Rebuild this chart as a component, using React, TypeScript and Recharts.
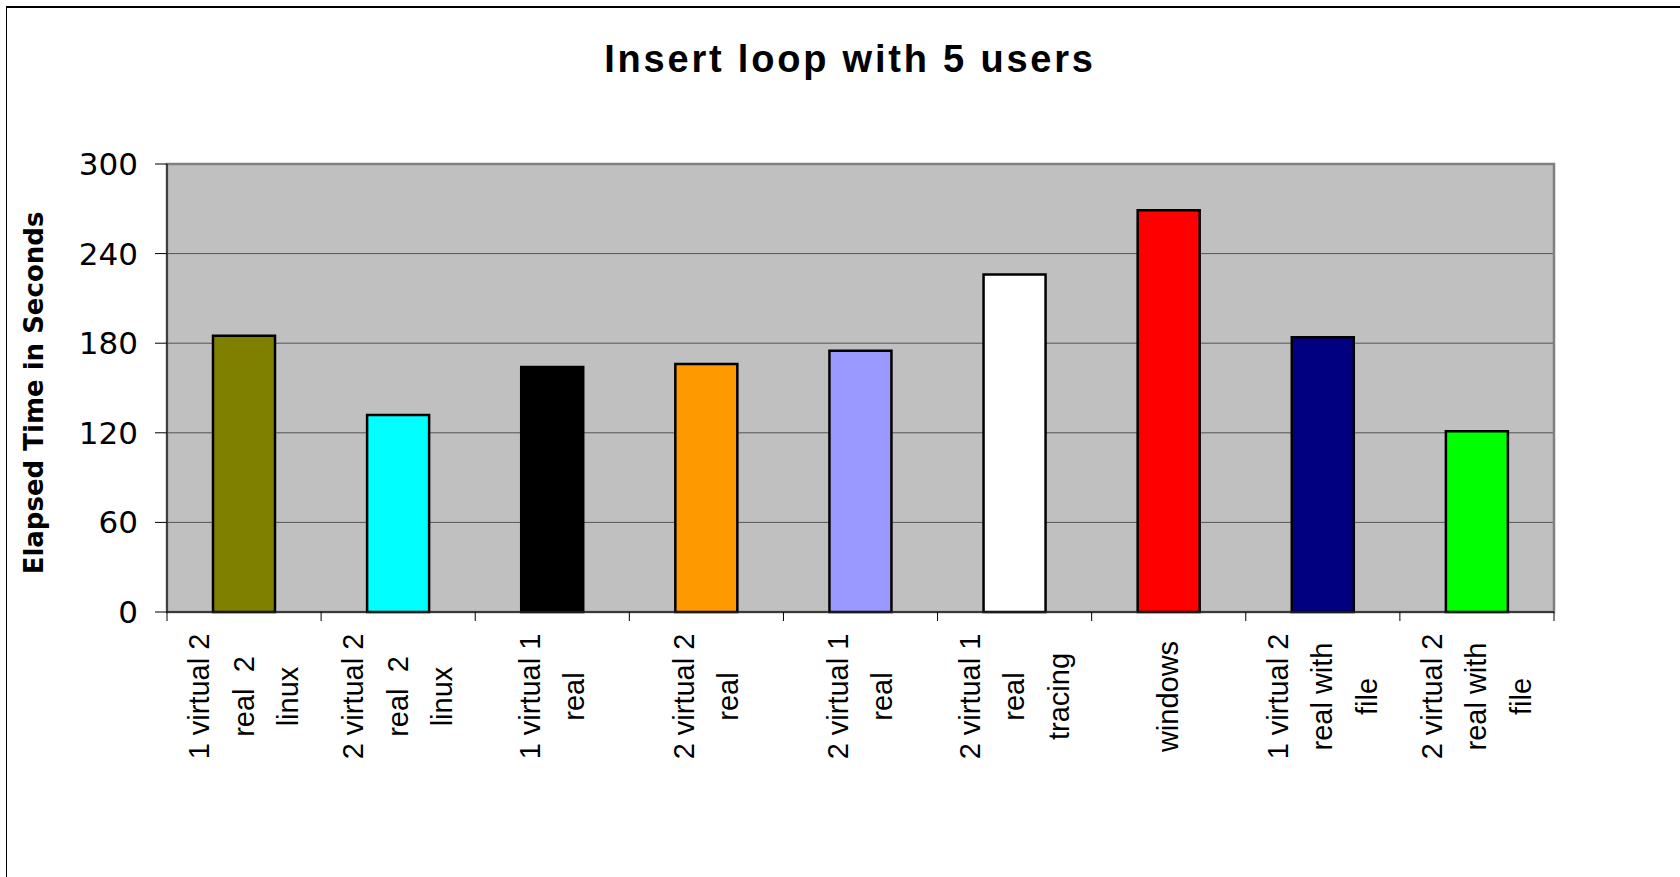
import React from 'react'
import {
  BarChart,
  Bar,
  XAxis,
  YAxis,
  CartesianGrid,
  ReferenceArea,
  Cell,
} from 'recharts'

// Insert loop benchmark, 5 users: elapsed seconds per setup
const categories = [
  '1 virtual 2\nreal  2\nlinux',
  '2 virtual 2\nreal  2\nlinux',
  '1 virtual 1\nreal',
  '2 virtual 2\nreal',
  '2 virtual 1\nreal',
  '2 virtual 1\nreal\ntracing',
  'windows',
  '1 virtual 2\nreal with\nfile',
  '2 virtual 2\nreal with\nfile',
]
const elapsedSeconds = [185, 132, 164, 166, 175, 226, 269, 184, 121]
const barColors = [
  '#808000',
  '#00ffff',
  '#000000',
  '#ff9900',
  '#9999ff',
  '#ffffff',
  '#ff0000',
  '#000080',
  '#00ff00',
]
const yTicks = [0, 60, 120, 180, 240, 300]

const W = 1680
const H = 877
const PLOT_LEFT = 167
const PLOT_RIGHT = 1554
const PLOT_TOP = 164
const PLOT_BOTTOM = 612
const X_AXIS_H = 200
const HALF_BAND = (PLOT_RIGHT - PLOT_LEFT) / categories.length / 2

const data = categories.map((name, i) => ({ name, seconds: elapsedSeconds[i] }))

/**
 * Rotated, wrapped category label plus boundary tick marks (Excel style)
 */
function CategoryTick(props: any) {
  const { x, y, payload, index, visibleTicksCount } = props
  const lines = String(payload.value).split('\n')
  const half = payload.offset > 0 ? payload.offset : HALF_BAND
  const gap = 44.5
  const yc = y + 84.5
  return (
    <g>
      <line x1={x - half} x2={x - half} y1={y} y2={y + 9} stroke="#000" strokeWidth={1} />
      {index === visibleTicksCount - 1 && (
        <line x1={x + half} x2={x + half} y1={y} y2={y + 9} stroke="#000" strokeWidth={1} />
      )}
      <text
        transform={`translate(${x},${yc}) rotate(-90)`}
        textAnchor="middle"
        fontFamily="'Liberation Sans', Arial, sans-serif"
        fontSize={29}
        fill="#000"
        style={{ whiteSpace: 'pre' }}
      >
        {lines.map((line, i) => (
          <tspan key={i} x={0} y={(i - (lines.length - 1) / 2) * gap + 9.5}>
            {line}
          </tspan>
        ))}
      </text>
    </g>
  )
}

function YTitle(props: any) {
  const vb = props.viewBox || { x: 0, y: PLOT_TOP, width: PLOT_LEFT, height: PLOT_BOTTOM - PLOT_TOP }
  const cx = vb.x + 34
  const cy = vb.y + vb.height / 2 + 5
  return (
    <text
      x={cx}
      y={cy}
      transform={`rotate(-90, ${cx}, ${cy})`}
      textAnchor="middle"
      dominantBaseline="central"
      fontFamily="'DejaVu Sans', sans-serif"
      fontWeight="bold"
      fontSize={26}
      fill="#000"
    >
      Elapsed Time in Seconds
    </text>
  )
}

export default function App() {
  return (
    <div
      style={{
        position: 'absolute',
        left: 0,
        top: 0,
        width: W,
        height: H,
        background: '#fff',
        overflow: 'hidden',
      }}
    >
      {/* frame (only top and left edges visible in the original crop) */}
      <div
        style={{
          position: 'absolute',
          left: 6,
          top: 6,
          width: W,
          height: H,
          borderTop: '2px solid #000',
          borderLeft: '1px solid #000',
        }}
      />
      <svg
        width={W}
        height={100}
        style={{ position: 'absolute', left: 0, top: 0, pointerEvents: 'none' }}
      >
        <text
          x={850}
          y={72}
          textAnchor="middle"
          fontFamily="'Liberation Sans', Arial, sans-serif"
          fontWeight="bold"
          fontSize={38}
          letterSpacing={2.8}
          fill="#000"
        >
          Insert loop with 5 users
        </text>
      </svg>
      <div style={{ position: 'absolute', left: 0, top: 0 }}>
        <BarChart
          width={W}
          height={H}
          data={data}
          margin={{
            top: PLOT_TOP,
            right: W - PLOT_RIGHT,
            left: 0,
            bottom: H - PLOT_BOTTOM - X_AXIS_H,
          }}
          barSize={62}
        >
          <CartesianGrid
            vertical={false}
            horizontal
            fill="#c0c0c0"
            fillOpacity={1}
            stroke="#555"
            strokeWidth={1}
          />
          <ReferenceArea
            y1={0}
            y2={300}
            fill="none"
            stroke="#808080"
            strokeWidth={2.5}
            ifOverflow="visible"
          />
          <XAxis
            dataKey="name"
            interval={0}
            height={X_AXIS_H}
            tickLine={false}
            tickSize={0}
            tickMargin={0}
            axisLine={{ stroke: '#222', strokeWidth: 1.5 }}
            tick={<CategoryTick />}
          />
          <YAxis
            width={PLOT_LEFT}
            domain={[0, 300]}
            ticks={yTicks}
            interval={0}
            tickSize={12}
            tickMargin={17}
            axisLine={{ stroke: '#000', strokeWidth: 1 }}
            tickLine={{ stroke: '#000', strokeWidth: 1 }}
            tick={{ fontSize: 31, fill: '#000', fontFamily: "'DejaVu Sans', sans-serif" }}
            label={<YTitle />}
          />
          <Bar dataKey="seconds" stroke="#000" strokeWidth={2.5} isAnimationActive={false}>
            {data.map((entry, index) => (
              <Cell key={`cell-${index}`} fill={barColors[index]} />
            ))}
          </Bar>
        </BarChart>
      </div>
    </div>
  )
}
